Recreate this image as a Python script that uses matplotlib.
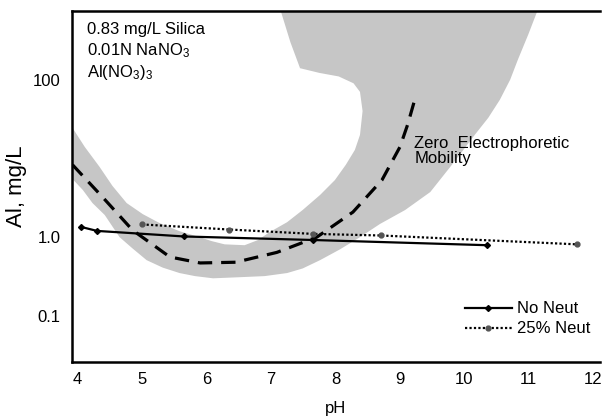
import matplotlib
matplotlib.use("Agg")
import matplotlib.pyplot as plt

plt.rcParams['font.family'] = ['Liberation Sans', 'DejaVu Sans']
plt.rcParams['mathtext.default'] = 'regular'

# solid line, no neutralisation
no_neut_ph = [4.05, 4.3, 5.65, 7.65, 10.35]
no_neut_al = [1.35, 1.2, 1.02, 0.92, 0.79]

# dotted line, 25% neutralisation
neut25_ph = [5.0, 6.35, 7.65, 8.7, 11.75]
neut25_al = [1.45, 1.25, 1.1, 1.05, 0.81]

# dashed line, zero electrophoretic mobility
zem_ph = [3.92, 4.39, 4.85, 5.43, 5.9, 6.45, 7.09, 7.71, 8.27, 8.72, 9.0, 9.12, 9.23]
zem_al = [8.3, 3.2, 1.23, 0.56, 0.47, 0.48, 0.64, 1.0, 2.08, 5.3, 14, 27, 56]

# shaded band: inner edge (from left, up to the top) then outer edge (top back to left)
band_inner_ph = [3.85, 4.11, 4.34, 4.54, 4.76, 5.01, 5.27, 5.58, 5.89, 6.08, 6.28,
                 6.59, 6.80, 6.98, 7.25, 7.49, 7.76, 7.99, 8.16, 8.30, 8.38, 8.42,
                 8.38, 8.28, 8.05, 7.75, 7.45, 7.30, 7.12]
band_inner_al = [30, 14, 7.8, 4.47, 2.71, 1.96, 1.51, 1.19, 1.0, 0.89, 0.81,
                 0.79, 0.92, 1.16, 1.55, 2.21, 3.43, 5.3, 8.3, 12.8, 19.9, 40,
                 70, 90, 110, 122, 140, 300, 900]
band_outer_ph = [11.17, 10.99, 10.83, 10.71, 10.55, 10.37, 10.16, 9.96, 9.78, 9.47,
                 9.08, 8.69, 8.38, 8.07, 7.76, 7.49, 7.25, 6.90, 6.52, 6.10, 5.82,
                 5.58, 5.32, 5.07, 4.85, 4.65, 4.42, 4.23, 4.08, 3.85]
band_outer_al = [900, 374, 180, 100, 55.6, 32.8, 19.9, 12.1, 7.8, 3.74,
                 2.21, 1.47, 1.0, 0.70, 0.51, 0.40, 0.35, 0.32, 0.31, 0.30, 0.32,
                 0.35, 0.41, 0.51, 0.72, 1.0, 1.91, 2.71, 3.97, 6.3]

xticks = [4, 5, 6, 7, 8, 9, 10, 11, 12]
yticks = [0.1, 1.0, 100]
ytick_labels = ['0.1', '1.0', '100']

fig = plt.figure(figsize=(6.04, 4.16), dpi=100)
ax = fig.add_axes([0.119, 0.130, 0.874, 0.844])

ax.fill(band_inner_ph + band_outer_ph, band_inner_al + band_outer_al,
        color='#c6c6c6', lw=0, zorder=1)

ax.plot(zem_ph, zem_al, color='black', lw=2.3, dashes=(4.5, 2.8), zorder=3)
ax.plot(no_neut_ph, no_neut_al, color='black', lw=1.6, marker='D', ms=3,
        label='No Neut', zorder=4)
ax.plot(neut25_ph, neut25_al, color='black', lw=1.6, ls=(0, (1, 1)),
        marker='o', ms=3.5, mfc='#555555', mec='#555555', label='25% Neut', zorder=4)

ax.set_yscale('log')
ax.set_xlim(3.91, 12.1)
ax.set_ylim(0.026, 750)

ax.set_xticks(xticks)
ax.set_yticks(yticks)
ax.set_yticklabels(ytick_labels)
ax.minorticks_off()
ax.tick_params(length=0, labelsize=12)
ax.tick_params(axis='y', pad=8)
ax.tick_params(axis='x', pad=7)

for s in ['left', 'bottom', 'top']:
    ax.spines[s].set_linewidth(1.8)
ax.spines['right'].set_visible(False)

ax.set_xlabel('pH', fontsize=12, labelpad=10)
ax.set_ylabel('Al, mg/L', fontsize=16, labelpad=4)

ax.text(0.028, 0.946, '0.83 mg/L Silica', transform=ax.transAxes, fontsize=12, va='center')
ax.text(0.028, 0.886, '0.01N NaNO$_3$', transform=ax.transAxes, fontsize=12, va='center')
ax.text(0.028, 0.823, 'Al(NO$_3$)$_3$', transform=ax.transAxes, fontsize=12, va='center')

ax.text(9.22, 19, 'Zero  Electrophoretic\nMobility', fontsize=12, va='top', ha='left',
        linespacing=0.95, zorder=5)

ax.legend(loc='lower right', bbox_to_anchor=(1.01, 0.03), frameon=False, fontsize=12,
          handlelength=2.8, handletextpad=0.3, labelspacing=0.3)

fig.savefig('out.png', dpi=100)
